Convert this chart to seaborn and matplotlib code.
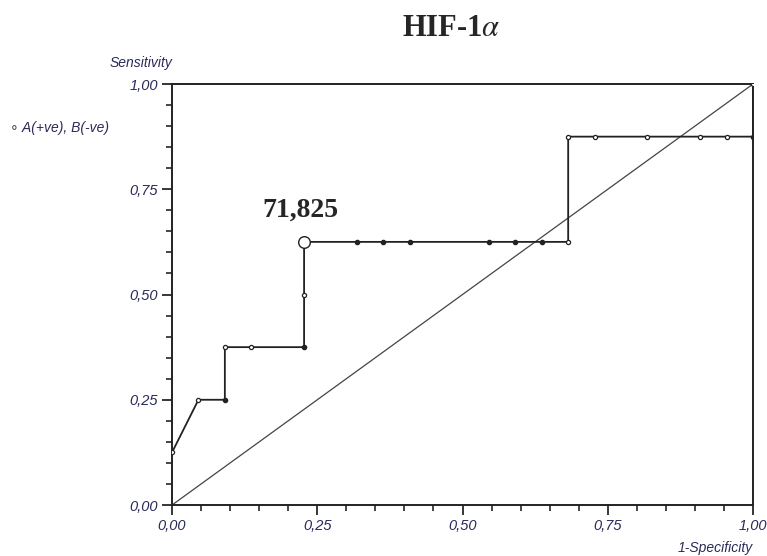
import numpy as np
import pandas as pd
import matplotlib
matplotlib.use('Agg')
import matplotlib.pyplot as plt
import seaborn as sns
from matplotlib.ticker import MultipleLocator, FuncFormatter

# ROC points (1-specificity, sensitivity)
fpr = [0.0, 1/22, 2/22, 2/22, 3/22, 5/22, 5/22, 5/22, 7/22, 8/22, 9/22, 12/22,
       13/22, 14/22, 15/22, 15/22, 16/22, 18/22, 20/22, 21/22, 1.0, 1.0]
tpr = [0.125, 0.25, 0.25, 0.375, 0.375, 0.375, 0.5, 0.625, 0.625, 0.625, 0.625, 0.625,
       0.625, 0.625, 0.625, 0.875, 0.875, 0.875, 0.875, 0.875, 0.875, 1.0]
filled = [0, 0, 1, 0, 0, 1, 0, 0, 1, 1, 1, 1,
          1, 1, 0, 0, 0, 0, 0, 0, 1, 0]
cutoff_x, cutoff_y, cutoff_label = 5/22, 0.625, '71,825'
diag = [0.0, 1.0]

df = pd.DataFrame({'fpr': fpr, 'tpr': tpr, 'filled': filled})

sns.set_style('white')
plt.rcParams['font.family'] = ['Liberation Sans', 'DejaVu Sans']
plt.rcParams['mathtext.fontset'] = 'stix'

fig = plt.figure(figsize=(7.67, 5.56), dpi=100)
ax = fig.add_axes([0.2243, 0.0917, 0.7575, 0.7572])

ax.plot(diag, diag, color='#444444', lw=0.9, zorder=1)
sns.lineplot(data=df, x='fpr', y='tpr', sort=False, estimator=None,
             color='#222222', lw=1.3, ax=ax, zorder=2)
open_pts = df[df['filled'] == 0]
full_pts = df[df['filled'] == 1]
ax.scatter(open_pts['fpr'], open_pts['tpr'], s=9, facecolor='white',
           edgecolor='#222222', lw=0.9, zorder=3)
ax.scatter(full_pts['fpr'], full_pts['tpr'], s=9, color='#222222', zorder=3)
ax.scatter([cutoff_x], [cutoff_y], s=70, facecolor='white',
           edgecolor='#222222', lw=1.0, zorder=4)
ax.text(cutoff_x - 0.006, cutoff_y + 0.045, cutoff_label, ha='center', va='bottom',
        fontsize=20, fontweight='bold', family='Liberation Serif')

ax.set_xlim(0, 1)
ax.set_ylim(0, 1)
ax.xaxis.set_major_locator(MultipleLocator(0.25))
ax.yaxis.set_major_locator(MultipleLocator(0.25))
ax.xaxis.set_minor_locator(MultipleLocator(0.05))
ax.yaxis.set_minor_locator(MultipleLocator(0.05))
fmt = FuncFormatter(lambda v, p: f'{v:.2f}'.replace('.', ','))
ax.xaxis.set_major_formatter(fmt)
ax.yaxis.set_major_formatter(fmt)
ax.tick_params(which='major', direction='out', length=7, width=1.3,
               bottom=True, left=True, labelsize=10.5, labelcolor='#2a2a5a', pad=3)
ax.tick_params(which='minor', direction='out', length=4, width=1.2,
               bottom=True, left=True)
for lab in ax.get_xticklabels() + ax.get_yticklabels():
    lab.set_style('italic')
for s in ax.spines.values():
    s.set_color('#222222')
    s.set_linewidth(1.4)
ax.set_xlabel('')
ax.set_ylabel('')

fig.text(172 / 767, 1 - 63 / 556, 'Sensitivity', ha='right', va='center',
         fontsize=10, style='italic', color='#2a2a5a')
fig.text(753 / 767, 1 - 548 / 556, '1-Specificity', ha='right', va='center',
         fontsize=10, style='italic', color='#2a2a5a')
fig.text(10 / 767, 1 - 128 / 556, '\u2218 A(+ve), B(-ve)', ha='left', va='center',
         fontsize=10, style='italic', color='#2a2a5a')
fig.text(451 / 767, 1 - 29 / 556, 'HIF-1$\\alpha$', ha='center', va='center',
         fontsize=22, fontweight='bold', family=['Liberation Serif', 'DejaVu Serif'])

fig.savefig('out.png', dpi=100)
